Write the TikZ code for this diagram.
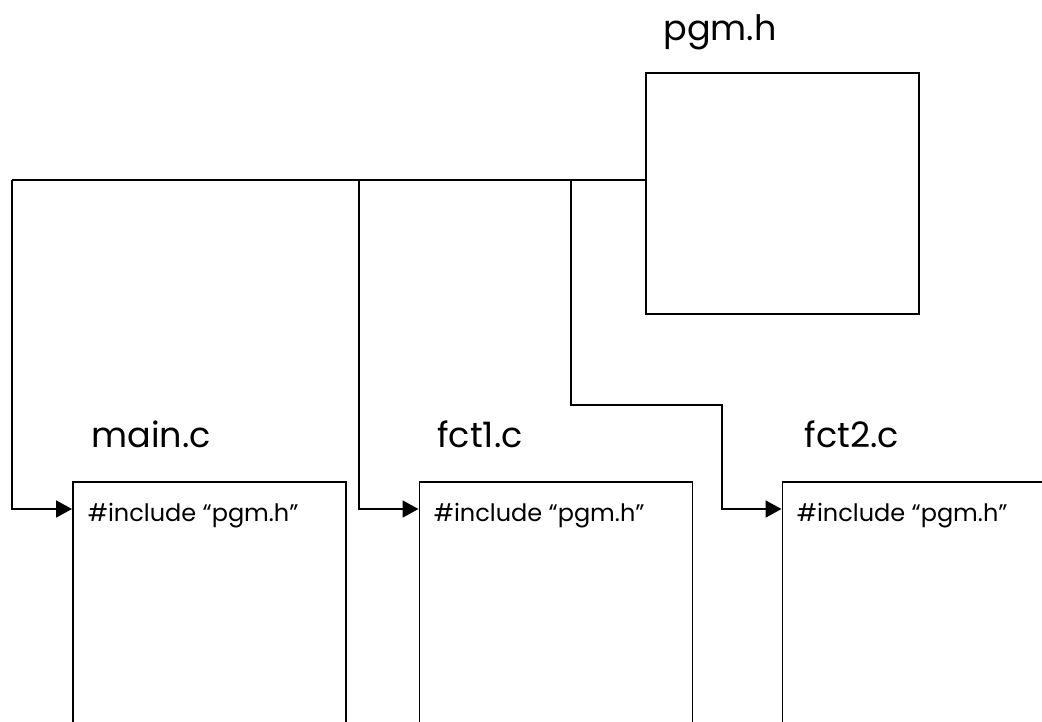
\documentclass[tikz,border=0pt]{standalone}
\usepackage{fontspec}
\setmainfont{Poppins}
\usetikzlibrary{arrows.meta}
\begin{document}
\begin{tikzpicture}[x=1pt,y=-1pt,
  line width=1.8pt,
  filebox/.style={draw, line width=1.8pt, minimum width=273pt, minimum height=330pt, anchor=north west, inner sep=0pt},
  hbox/.style={draw, line width=1.8pt, minimum width=273pt, minimum height=241pt, inner sep=0pt},
  title/.style={font=\fontsize{35}{42}\selectfont, anchor=base, inner sep=0pt},
  inc/.style={font=\fontsize{24}{29}\selectfont, anchor=base west, inner sep=0pt},
  arr/.style={-{Triangle[length=16pt,width=17pt]}}]
\clip (0,0) rectangle (1042,721);
\useasboundingbox (0,0) rectangle (1042,721);
\node[hbox] (pgm) at (782.5,193.5) {};
\node[title] (pgmt) at (720,40) {pgm.h};
\node[filebox] (mainb) at (72,481) {};
\node[filebox] (fct1b) at (418.5,481) {};
\node[filebox] (fct2b) at (781.5,481) {};
\node[title] (maint) at (151,447) {main.c};
\node[title] (fct1t) at (480,447) {fct1.c};
\node[title] (fct2t) at (852,447) {fct2.c};
\node[inc] (inc1) at (87,521) {\#include “pgm.h”};
\node[inc] (inc2) at (433,521) {\#include “pgm.h”};
\node[inc] (inc3) at (796,521) {\#include “pgm.h”};
\coordinate (hub) at (pgm.west |- 0,180);
\coordinate (j1) at (12,180);
\coordinate (j2) at (359,180);
\coordinate (j3) at (571,180);
\coordinate (k1) at (571,405);
\coordinate (k2) at (722,405);
\draw (hub) -- (j1);
\draw[arr] (j1) |- (mainb.west |- 0,509);
\draw[arr] (j2) |- (fct1b.west |- 0,509);
\draw[arr] (j3) -- (k1) -- (k2) |- (fct2b.west |- 0,509);
\end{tikzpicture}
\end{document}
